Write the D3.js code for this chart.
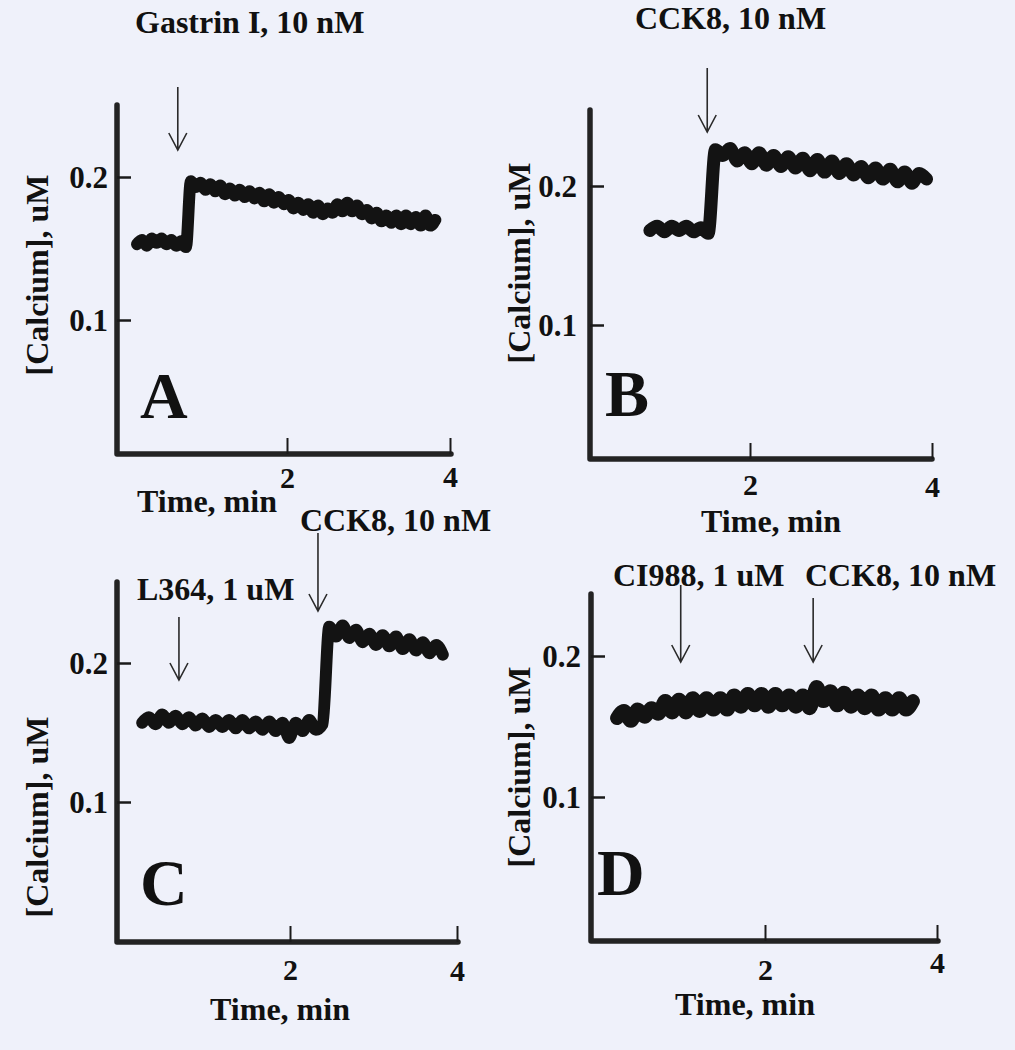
<!DOCTYPE html>
<html><head><meta charset="utf-8">
<script src="https://cdn.jsdelivr.net/npm/d3@7"></script>
<style>
html,body{margin:0;padding:0;background:#eff1fa;}
svg{display:block;}
text{font-family:"Liberation Serif","Times New Roman",serif;font-weight:bold;fill:#111;}
</style></head>
<body>
<svg id="chart" width="1015" height="1050"></svg>
<script>
// ---------- DATA ----------
const xTickValues = [2, 4];
const xTickLabels = ["2", "4"];
const yTickValues = [0.1, 0.2];
const yTickLabels = ["0.1", "0.2"];
const xAxisTitle = "Time, min";
const yAxisTitle = "[Calcium], uM";
const panelLetters = ["A", "B", "C", "D"];

// Panel A: Gastrin I
const startA = 0.16, stepA = 0.06;
const calciumA = [0.153,0.156,0.152,0.157,0.154,0.157,0.153,0.156,0.152,0.155,0.151,
  0.197,0.193,0.196,0.191,0.195,0.190,0.194,0.188,0.192,0.187,0.191,0.186,0.190,0.185,0.189,
  0.183,0.188,0.182,0.186,0.181,0.184,0.178,0.182,0.177,0.181,0.175,0.180,0.174,0.178,0.175,
  0.181,0.176,0.182,0.176,0.180,0.174,0.177,0.171,0.175,0.169,0.173,0.168,0.173,0.167,0.173,
  0.167,0.172,0.166,0.173,0.166,0.170];
const drugsA = ["Gastrin I, 10 nM"];
const drugTimesA = [0.66];

// Panel B: CCK8
const startB = 0.90, stepB = 0.08;
const calciumB = [0.168,0.171,0.167,0.171,0.168,0.171,0.167,0.170,0.166,
  0.226,0.222,0.227,0.218,0.224,0.216,0.224,0.215,0.222,0.214,0.221,0.213,0.220,0.211,0.219,
  0.210,0.218,0.209,0.216,0.208,0.214,0.206,0.213,0.205,0.212,0.203,0.210,0.202,0.209,0.205];
const drugsB = ["CCK8, 10 nM"];
const drugTimesB = [1.53];

// Panel C: L364 then CCK8
const startC = 0.23, stepC = 0.08;
const calciumC = [0.157,0.161,0.156,0.163,0.157,0.162,0.156,0.161,0.155,0.160,0.154,0.159,
  0.154,0.159,0.153,0.159,0.153,0.158,0.152,0.158,0.151,0.157,0.146,0.157,0.151,0.159,0.152,0.156,
  0.226,0.219,0.227,0.218,0.224,0.215,0.221,0.213,0.220,0.212,0.219,0.210,0.217,0.209,0.215,
  0.207,0.213,0.206];
const drugsC = ["L364, 1 uM", "CCK8, 10 nM"];
const drugTimesC = [0.67, 2.335];

// Panel D: CI988 then CCK8
const startD = 0.28, stepD = 0.08;
const calciumD = [0.156,0.161,0.154,0.162,0.157,0.163,0.159,0.168,0.160,0.169,0.160,0.170,
  0.161,0.170,0.162,0.170,0.162,0.172,0.164,0.173,0.165,0.173,0.164,0.173,0.165,0.172,0.164,
  0.172,0.163,0.178,0.168,0.175,0.165,0.174,0.164,0.172,0.163,0.172,0.162,0.170,0.162,0.170,
  0.162,0.168];
const drugsD = ["CI988, 1 uM", "CCK8, 10 nM"];
const drugTimesD = [1.02, 2.56];

// ---------- LAYOUT (pixels) ----------
const layouts = [
  {ox:117, oy:454, top:105, right:451, x2:287, x4:450, y1:320, y2:177,
   yLabX:37, yLabY:275, yTickPad:9, xTickDy:[34,33], xTitleX:207, xTitleY:512,
   letterX:140, letterY:418, lw:12,
   notes:[{tx:135, ty:33, a0:87, a1:150}]},
  {ox:590, oy:459, top:110, right:932, x2:750, x4:932, y1:325, y2:186,
   yLabX:519, yLabY:263, yTickPad:13, xTickDy:[36,38], xTitleX:771, xTitleY:532,
   letterX:605, letterY:416, lw:13,
   notes:[{tx:635, ty:29, a0:68, a1:132}]},
  {ox:117, oy:942, top:582, right:458, x2:290, x4:457, y1:802, y2:663,
   yLabX:37, yLabY:817, yTickPad:9, xTickDy:[38,39], xTitleX:280, xTitleY:1020,
   letterX:140, letterY:905, lw:12,
   notes:[{tx:137, ty:600, a0:617, a1:680},{tx:300, ty:531, a0:533, a1:611}]},
  {ox:591, oy:941, top:594, right:938, x2:765, x4:937, y1:797, y2:656,
   yLabX:519, yLabY:767, yTickPad:10, xTickDy:[39,32], xTitleX:745, xTitleY:1015,
   letterX:597, letterY:895, lw:14,
   notes:[{tx:613, ty:586, a0:585, a1:662},{tx:805, ty:586, a0:598, a1:662}]}
];

const series = [
  {start:startA, step:stepA, values:calciumA, drugs:drugsA, times:drugTimesA},
  {start:startB, step:stepB, values:calciumB, drugs:drugsB, times:drugTimesB},
  {start:startC, step:stepC, values:calciumC, drugs:drugsC, times:drugTimesC},
  {start:startD, step:stepD, values:calciumD, drugs:drugsD, times:drugTimesD}
];

const svg = d3.select("#chart");
svg.append("rect").attr("width",1015).attr("height",1050).attr("fill","#eff1fa");

series.forEach((s, k) => {
  const L = layouts[k];
  const g = svg.append("g");
  const x = d3.scaleLinear().domain([2,4]).range([L.x2, L.x4]);
  const y = d3.scaleLinear().domain([0.1,0.2]).range([L.y1, L.y2]);

  // spine
  g.append("path")
    .attr("d", `M${L.ox},${L.top}L${L.ox},${L.oy}L${L.right},${L.oy}`)
    .attr("fill","none").attr("stroke","#232323").attr("stroke-width",5.5)
    .attr("stroke-linejoin","round").attr("stroke-linecap","round");

  // y axis ticks (inward)
  const yAxis = d3.axisLeft(y).tickValues(yTickValues)
    .tickFormat((d,i) => yTickLabels[i]).tickSizeInner(-14).tickSizeOuter(0).tickPadding(L.yTickPad);
  const ya = g.append("g").attr("transform",`translate(${L.ox},0)`).call(yAxis);
  ya.select(".domain").remove();
  ya.selectAll(".tick line").attr("stroke","#1a1a1a").attr("stroke-width",2.5);
  ya.selectAll(".tick text").attr("font-size",31).attr("font-family","Liberation Serif, serif")
    .attr("font-weight","bold").attr("fill","#111").attr("x",-L.yTickPad).attr("dy","0.34em");

  // x axis ticks (inward)
  const xAxis = d3.axisBottom(x).tickValues(xTickValues)
    .tickFormat((d,i) => xTickLabels[i]).tickSizeInner(-16).tickSizeOuter(0);
  const xa = g.append("g").attr("transform",`translate(0,${L.oy})`).call(xAxis);
  xa.select(".domain").remove();
  xa.selectAll(".tick line").attr("stroke","#1a1a1a").attr("stroke-width",2);
  xa.selectAll(".tick text").attr("font-size",30).attr("font-family","Liberation Serif, serif")
    .attr("font-weight","bold").attr("fill","#111")
    .attr("y",(d,i)=>L.xTickDy[i]).attr("dy",0);

  // axis titles
  g.append("text").attr("x",L.xTitleX).attr("y",L.xTitleY).attr("text-anchor","middle")
    .attr("font-size",32).text(xAxisTitle);
  g.append("text").attr("transform",`translate(${L.yLabX},${L.yLabY}) rotate(-90)`)
    .attr("text-anchor","middle").attr("dominant-baseline","central")
    .attr("font-size",32).text(yAxisTitle);

  // panel letter
  g.append("text").attr("x",L.letterX).attr("y",L.letterY).attr("font-size",66).text(panelLetters[k]);

  // trace
  const pts = s.values.map((v,i) => [s.start + i*s.step, v]);
  const line = d3.line().x(d=>x(d[0])).y(d=>y(d[1])).curve(d3.curveMonotoneX);
  g.append("path").datum(pts).attr("d",line).attr("fill","none")
    .attr("stroke","#131313").attr("stroke-width",L.lw)
    .attr("stroke-linejoin","round").attr("stroke-linecap","round");

  // annotations: label + arrow
  s.drugs.forEach((lab, j) => {
    const N = L.notes[j];
    g.append("text").attr("x",N.tx).attr("y",N.ty).attr("font-size",32).text(lab);
    const ax = x(s.times[j]);
    g.append("path")
      .attr("d",`M${ax},${N.a0}L${ax},${N.a1}M${ax-9},${N.a1-17}L${ax},${N.a1}L${ax+9},${N.a1-17}`)
      .attr("fill","none").attr("stroke","#2a2a2a").attr("stroke-width",1.6);
  });
});
</script>
</body></html>
